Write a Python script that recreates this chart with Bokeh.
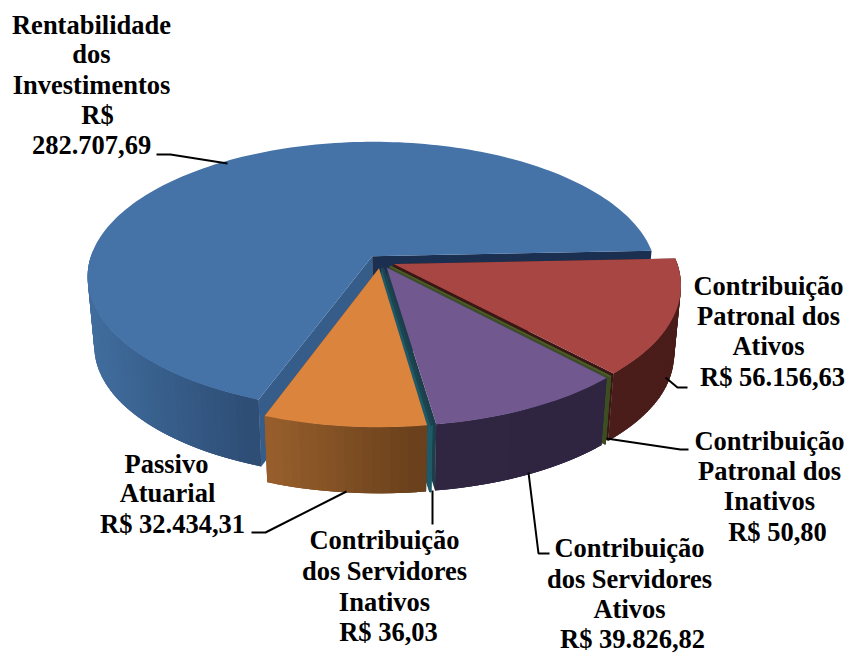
import math
from bokeh.embed import file_html
from bokeh.resources import INLINE
from bokeh.plotting import figure
from bokeh.models import ColumnDataSource
from bokeh.core.properties import value

# chart data, clockwise from the right-hand edge of the large slice
names = ["Contribuição Patronal dos Ativos", "Contribuição Patronal dos Inativos",
         "Contribuição dos Servidores Ativos", "Contribuição dos Servidores Inativos",
         "Passivo Atuarial", "Rentabilidade dos Investimentos"]
values = [56156.63, 50.80, 39826.82, 36.03, 32434.31, 282707.69]
top_colors = ["#A84644", "#4E5E2A", "#71588F", "#1B4450", "#DB843D", "#4572A7"]
rim_left = ["#4A1D1A", "#3D4F22", "#302642", "#1F5A68", "#9A602D", "#416E9F"]
rim_right = ["#4A1D1A", "#3D4F22", "#2F2540", "#1F5A68", "#6A411C", "#2E4E76"]
face_start = ["#3A1715", "#3D4F22", "#1F2C4A", "#1F5A68", "#184050", "#365D8A"]
face_end = ["#3A1715", "#3D4F22", "#1D3F4C", "#1F5A68", "#7A4A20", "#1B3050"]
thin_width = [0, 1.4, 0, 2.0, 0, 0]

label_lines = [
    (91, 24, "Rentabilidade"), (91, 53, "dos"), (91, 84, "Investimentos"), (97, 114, "R$"), (91, 144, "282.707,69"),
    (768, 285, "Contribuição"), (768, 315, "Patronal dos"), (768, 345, "Ativos"), (772, 376, "R$ 56.156,63"),
    (769, 440, "Contribuição"), (769, 470, "Patronal dos"), (769, 500, "Inativos"), (777, 531, "R$ 50,80"),
    (629, 547, "Contribuição"), (629, 578, "dos Servidores"), (629, 608, "Ativos"), (632, 638, "R$ 39.826,82"),
    (384, 539, "Contribuição"), (384, 570, "dos Servidores"), (384, 601, "Inativos"), (388, 631, "R$ 36,03"),
    (166, 463, "Passivo"), (167, 492, "Atuarial"), (172, 523, "R$ 32.434,31"),
]
leaders = [
    ([156, 170, 227], [154, 154, 163]),
    ([665, 677, 687], [377, 387, 387]),
    ([606, 680, 688], [438, 449, 449]),
    ([528, 538, 549], [472, 553, 553]),
    ([432, 432], [490, 524]),
    ([346, 265, 251], [491, 532, 532]),
]

# projection of the tilted disc
CX, CY, R, B, K, EXPL, DEPTH, BOTTOM_SCALE = 380, 261, 283, 133, 0.15, 0.05, 70, 0.977
START = 87.6


def project(u, v, low=False):
    w = 1 - K * v
    x, y = R * u / w, B * v / w
    if low:
        return CX + BOTTOM_SCALE * x, CY + BOTTOM_SCALE * y + DEPTH
    return CX + x, CY + y


def lerp_color(a, b, t):
    ca = [int(a[i:i + 2], 16) for i in (1, 3, 5)]
    cb = [int(b[i:i + 2], 16) for i in (1, 3, 5)]
    return "#%02x%02x%02x" % tuple(round(p + (q - p) * t) for p, q in zip(ca, cb))


W, H = 852, 653
p = figure(width=W, height=H, x_range=(0, W), y_range=(H, 0), output_backend="svg",
           toolbar_location=None, min_border=0, margin=(0, 0, 0, 0))
p.axis.visible = False
p.grid.visible = False
p.outline_line_color = None

total = sum(values)
spans = []
a = START
for val in values:
    sweep = val / total * 360
    spans.append((a, a + sweep))
    a += sweep

# painter's order: back slice first
order = [5, 0, 1, 2, 3, 4]
for i in order:
    a0, a1 = spans[i]
    mid = math.radians((a0 + a1) / 2)
    ex, ey = EXPL * math.sin(mid), -EXPL * math.cos(mid)
    n = max(2, int((a1 - a0) / 1.5))
    angs = [math.radians(a0 + (a1 - a0) * j / n) for j in range(n + 1)]
    pts = [(math.sin(t) + ex, -math.cos(t) + ey) for t in angs]
    top = [project(u, v) for u, v in pts]
    low = [project(u, v, True) for u, v in pts]
    apex_t, apex_b = project(ex, ey), project(ex, ey, True)
    lw = thin_width[i]
    thin = lw > 0

    # radial faces
    for k_idx, col in ((0, face_start[i]), (-1, face_end[i])):
        xs = [apex_t[0], top[k_idx][0], low[k_idx][0], apex_b[0]]
        ys = [apex_t[1], top[k_idx][1], low[k_idx][1], apex_b[1]]
        p.patch(xs, ys, fill_color=col, line_color=col if thin else None, line_width=lw)

    # outer wall, shaded from left to right; each facet overlaps the next one
    if i == 5:
        wall = [j for j in range(n) if pts[j][1] > -0.05 and pts[j][0] < 0]
    else:
        wall = list(range(n))
    wall.sort(key=lambda j: top[j][0])
    xmin = min(top[j][0] for j in wall)
    xmax = max(top[j][0] for j in wall)
    qx, qy, qc = [], [], []
    for j in wall:
        j2 = max(0, j - 1)
        j3 = min(n, j + 2)
        qx.append([top[j2][0], top[j3][0], low[j3][0], low[j2][0]])
        qy.append([top[j2][1], top[j3][1], low[j3][1], low[j2][1]])
        t = (top[j][0] - xmin) / max(xmax - xmin, 1e-6)
        qc.append(lerp_color(rim_left[i], rim_right[i], t))
    src = ColumnDataSource(dict(xs=qx, ys=qy, c=qc))
    p.patches("xs", "ys", source=src, fill_color="c", line_color="c" if thin else None, line_width=lw)

    # top surface
    xs = [apex_t[0]] + [q[0] for q in top]
    ys = [apex_t[1]] + [q[1] for q in top]
    p.patch(xs, ys, fill_color=top_colors[i], line_color=top_colors[i] if thin else None, line_width=lw)

for lx, ly in leaders:
    p.line(lx, ly, line_color="black", line_width=2)

p.text(x=[t[0] for t in label_lines], y=[t[1] for t in label_lines], text=[t[2] for t in label_lines],
       text_font=value("Liberation Serif"), text_font_style="bold", text_font_size="26.5px",
       text_align="center", text_baseline="middle", text_color="black")

open("out.html", "w").write(file_html(p, INLINE))
